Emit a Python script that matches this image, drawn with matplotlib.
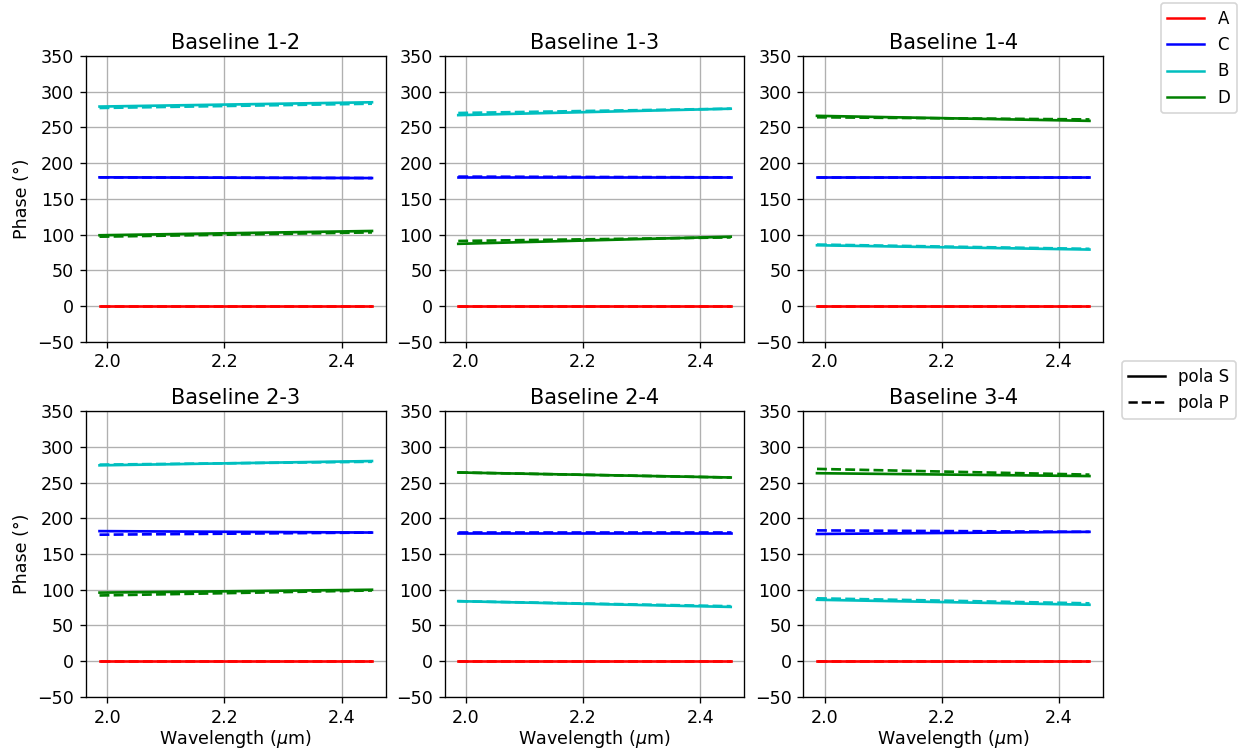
import numpy as np
import matplotlib
matplotlib.use('Agg')
import matplotlib.pyplot as plt
from matplotlib.lines import Line2D

plt.rcParams['font.size'] = 10.5

# wavelength span (start, end) in micron
wl = [1.987, 2.452]

baselines = ['1-2', '1-3', '1-4', '2-3', '2-4', '3-4']
outputs = ['A', 'C', 'B', 'D']
colors = {'A': 'r', 'C': 'b', 'B': 'c', 'D': 'g'}

# phase at start / end of band, pola S (solid)
phase_S = {
    '1-2': {'A': [0, 0], 'C': [180, 179], 'B': [279, 285], 'D': [99, 105]},
    '1-3': {'A': [0, 0], 'C': [180, 180], 'B': [267, 276], 'D': [87, 97]},
    '1-4': {'A': [0, 0], 'C': [180, 180], 'B': [85, 79], 'D': [266, 259]},
    '2-3': {'A': [0, 0], 'C': [182, 180], 'B': [274, 280], 'D': [96, 100]},
    '2-4': {'A': [0, 0], 'C': [180, 180], 'B': [84, 76], 'D': [264, 257]},
    '3-4': {'A': [0, 0], 'C': [178, 181], 'B': [86, 79], 'D': [263, 259]},
}
# pola P (dashed)
phase_P = {
    '1-2': {'A': [0, 0], 'C': [180, 179], 'B': [277, 283], 'D': [97, 103]},
    '1-3': {'A': [0, 0], 'C': [181, 180], 'B': [270, 276], 'D': [91, 96]},
    '1-4': {'A': [0, 0], 'C': [180, 180], 'B': [86, 80], 'D': [264, 261]},
    '2-3': {'A': [0, 0], 'C': [177, 180], 'B': [275, 279], 'D': [92, 99]},
    '2-4': {'A': [0, 0], 'C': [181, 181], 'B': [84, 77], 'D': [264, 257]},
    '3-4': {'A': [0, 0], 'C': [183, 181], 'B': [88, 81], 'D': [269, 261]},
}

fig, axes = plt.subplots(2, 3, figsize=(1245 / 120, 754 / 120), dpi=120)
fig.subplots_adjust(left=0.069, right=0.886, top=0.926, bottom=0.0756,
                    wspace=0.197, hspace=0.242)

for i, bl in enumerate(baselines):
    ax = axes[i // 3, i % 3]
    for o in outputs:
        ax.plot(wl, phase_S[bl][o], color=colors[o], ls='-', lw=1.6)
        ax.plot(wl, phase_P[bl][o], color=colors[o], ls='--', lw=1.6)
    ax.set_ylim(-50, 350)
    ax.set_yticks(np.arange(-50, 351, 50))
    ax.set_xticks([2.0, 2.2, 2.4])
    ax.grid(True)
    ax.set_title('Baseline ' + bl, fontsize=12.5, pad=4)
    if i % 3 == 0:
        ax.set_ylabel('Phase (°)')
    if i // 3 == 1:
        ax.set_xlabel(r'Wavelength ($\mu$m)', labelpad=1)

h1 = [Line2D([], [], color=colors[o], lw=1.5) for o in outputs]
fig.legend(h1, outputs, loc='upper right', bbox_to_anchor=(1237 / 1245, 1 - 3 / 754),
           borderaxespad=0, handlelength=2.2, fontsize=10)
h2 = [Line2D([], [], color='k', ls='-', lw=1.5), Line2D([], [], color='k', ls='--', lw=1.5)]
fig.legend(h2, ['pola S', 'pola P'], loc='upper right', bbox_to_anchor=(1236 / 1245, 1 - 361 / 754),
           borderaxespad=0, handlelength=2.2, fontsize=10)

plt.savefig('out.png')
